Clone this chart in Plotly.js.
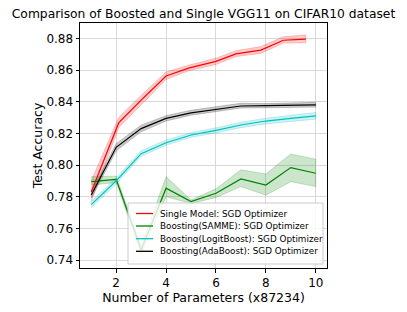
<!DOCTYPE html>
<html>
<head>
<meta charset="utf-8">
<script src="https://cdn.plot.ly/plotly-3.0.1.min.js"></script>
<style>html,body{margin:0;padding:0;background:#fff;}#chart{width:407px;height:312px;}</style>
</head>
<body>
<div id="chart"></div>
<script>
// ---- data ----
const xSingle = [1, 2.1, 3, 4, 4.9, 6, 6.8, 7.8, 8.7, 9.6];
const singleMean = [0.783, 0.8266, 0.841, 0.8562, 0.8612, 0.8655, 0.8702, 0.8726, 0.8788, 0.8795];
const singleLo   = [0.777, 0.8235, 0.838, 0.8540, 0.8595, 0.8635, 0.8685, 0.8705, 0.8770, 0.8772];
const singleHi   = [0.790, 0.8300, 0.844, 0.8588, 0.8630, 0.8675, 0.8722, 0.8748, 0.8810, 0.8822];

const xBoost = [1, 2, 3, 4, 5, 6, 7, 8, 9, 10];
const sammeMean = [0.7895, 0.7910, 0.7465, 0.7854, 0.7769, 0.7822, 0.7912, 0.7874, 0.7984, 0.7948];
const sammeLo   = [0.7874, 0.7890, 0.7440, 0.7800, 0.7758, 0.7795, 0.7864, 0.7810, 0.7895, 0.7864];
const sammeHi   = [0.7927, 0.7930, 0.7490, 0.7927, 0.7780, 0.7850, 0.7970, 0.7944, 0.8070, 0.8037];

const logitMean = [0.7750, 0.7900, 0.8072, 0.8141, 0.8190, 0.8219, 0.8253, 0.8278, 0.8295, 0.8310];
const logitLo   = [0.7730, 0.7880, 0.8055, 0.8125, 0.8175, 0.8203, 0.8236, 0.8260, 0.8276, 0.8290];
const logitHi   = [0.7770, 0.7920, 0.8090, 0.8158, 0.8205, 0.8235, 0.8270, 0.8296, 0.8314, 0.8332];

const adaMean = [0.7811, 0.8112, 0.8230, 0.8295, 0.8330, 0.8352, 0.8373, 0.8375, 0.8379, 0.8380];
const adaLo   = [0.7790, 0.8090, 0.8210, 0.8278, 0.8315, 0.8338, 0.8360, 0.8362, 0.8366, 0.8366];
const adaHi   = [0.7830, 0.8135, 0.8252, 0.8312, 0.8346, 0.8368, 0.8390, 0.8388, 0.8393, 0.8396];

const seriesNames = [
  "Single Model: SGD Optimizer",
  "Boosting(SAMME): SGD Optimizer",
  "Boosting(LogitBoost): SGD Optimizer",
  "Boosting(AdaBoost): SGD Optimizer"
];
const xTicks = [2, 4, 6, 8, 10];
const yTicks = [0.74, 0.76, 0.78, 0.80, 0.82, 0.84, 0.86, 0.88];

// ---- build ----
const series = [
  {x: xSingle, m: singleMean, lo: singleLo, hi: singleHi, c: '#ff0000', f: 'rgba(255,0,0,0.2)'},
  {x: xBoost, m: sammeMean, lo: sammeLo, hi: sammeHi, c: '#008000', f: 'rgba(0,128,0,0.2)'},
  {x: xBoost, m: logitMean, lo: logitLo, hi: logitHi, c: '#00bfbf', f: 'rgba(0,191,191,0.2)'},
  {x: xBoost, m: adaMean, lo: adaLo, hi: adaHi, c: '#000000', f: 'rgba(0,0,0,0.2)'}
];
const traces = [];
series.forEach((s) => {
  traces.push({
    x: s.x.concat(s.x.slice().reverse()),
    y: s.hi.concat(s.lo.slice().reverse()),
    type: 'scatter', mode: 'lines', fill: 'toself', fillcolor: s.f,
    line: {width: 1, color: s.f}, showlegend: false, hoverinfo: 'skip'
  });
});
series.forEach((s, i) => {
  traces.push({
    x: s.x, y: s.m, type: 'scatter', mode: 'lines', name: seriesNames[i],
    line: {color: s.c, width: 1.2}, showlegend: false
  });
});

// plot area in pixels (for the hand-drawn legend box)
const PL = 80, PR = 327, PT = 23, PB = 268;
const px2x = p => (p - PL) / (PR - PL);
const px2y = p => (PB - p) / (PB - PT);

const shapes = [{
  type: 'rect', xref: 'paper', yref: 'paper', layer: 'above',
  x0: px2x(128), x1: px2x(323), y0: px2y(264), y1: px2y(203),
  fillcolor: 'rgba(255,255,255,0.8)', line: {color: '#cccccc', width: 1}
}];
const annotations = [];
const rowY = [213.5, 226, 238.7, 251.3];
series.forEach((s, i) => {
  shapes.push({
    type: 'line', xref: 'paper', yref: 'paper', layer: 'above',
    x0: px2x(136), x1: px2x(153), y0: px2y(rowY[i]), y1: px2y(rowY[i]),
    line: {color: s.c, width: 1.3}
  });
  annotations.push({
    xref: 'paper', yref: 'paper', x: px2x(157.5), y: px2y(rowY[i]),
    xanchor: 'left', yanchor: 'middle', showarrow: false,
    text: seriesNames[i],
    font: {family: 'DejaVu Sans, sans-serif', size: 8.8, color: '#000'}
  });
});

const font = {family: 'DejaVu Sans, sans-serif', color: '#000'};
const layout = {
  width: 407, height: 312,
  margin: {l: PL, r: 407 - PR, t: PT, b: 312 - PB},
  paper_bgcolor: '#fff', plot_bgcolor: '#fff',
  font: Object.assign({size: 12}, font),
  title: {text: 'Comparison of Boosted and Single VGG11 on CIFAR10 dataset',
          font: Object.assign({size: 12.3}, font), x: 0.5, xanchor: 'center', y: 0.955, yanchor: 'middle'},
  xaxis: {
    range: [0.55, 10.45], tickvals: xTicks, ticktext: xTicks.map(String),
    showgrid: true, gridcolor: '#d9d9d9', gridwidth: 1, zeroline: false,
    showline: true, linecolor: '#000', linewidth: 1, mirror: true,
    ticks: 'outside', ticklen: 3.5, tickcolor: '#000',
    tickfont: Object.assign({size: 12}, font),
    title: {text: 'Number of Parameters (x87234)', font: Object.assign({size: 12.5}, font), standoff: 4}
  },
  yaxis: {
    range: [0.735, 0.8897], tickvals: yTicks, ticktext: yTicks.map(v => v.toFixed(2)),
    showgrid: true, gridcolor: '#d9d9d9', gridwidth: 1, zeroline: false,
    showline: true, linecolor: '#000', linewidth: 1, mirror: true,
    ticks: 'outside', ticklen: 3.5, tickcolor: '#000',
    tickfont: Object.assign({size: 12}, font),
    title: {text: 'Test Accuracy', font: Object.assign({size: 12.5}, font), standoff: 1}
  },
  shapes: shapes,
  annotations: annotations,
  showlegend: false
};
Plotly.newPlot('chart', traces, layout, {staticPlot: true, displayModeBar: false});
</script>
</body>
</html>
